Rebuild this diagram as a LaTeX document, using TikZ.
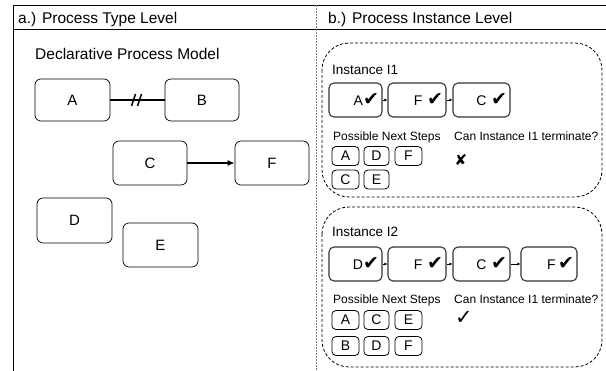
\documentclass[tikz,border=0pt]{standalone}
\usepackage{fontspec}
\setmainfont{Liberation Sans}
\newfontfamily\tickfont{DejaVu Sans}
\usetikzlibrary{arrows.meta}

\newcommand{\okMark}{{\tickfont\fontsize{19}{16}\selectfont ✔}}
\newcommand{\yesMark}{{\tickfont\fontsize{21}{18}\selectfont ✓}}
\newcommand{\noMark}{{\tickfont\fontsize{15}{12}\selectfont ✘}}

\tikzstyle{activity} = [
 rectangle,
 draw,
 line width=0.7pt,
 rounded corners=6pt,
 minimum width=75pt,
 minimum height=42pt,
 font=\fontsize{15}{18}\selectfont
]
\tikzstyle{execStep} = [
 rectangle,
 draw=black!80,
 line width=1.1pt,
 rounded corners=5pt,
 minimum height=34pt,
 inner sep=3pt,
 align=right,
 font=\fontsize{14}{16}\selectfont
]
\tikzstyle{nextStep} = [
 rectangle,
 draw,
 line width=0.8pt,
 rounded corners=4pt,
 minimum width=27pt,
 minimum height=19pt,
 inner sep=0pt,
 font=\fontsize{14}{16}\selectfont
]
\tikzstyle{instanceFrame} = [
 draw,
 line width=0.8pt,
 dash pattern=on 3pt off 2pt,
 rounded corners=27pt
]
\tikzstyle{label} = [
 anchor=base west,
 inner sep=0pt
]
\tikzstyle{flow} = [
 -{Latex[length=3pt,width=3pt]},
 line width=0.6pt
]

\begin{document}
\begin{tikzpicture}[x=1pt,y=-1pt]
  \useasboundingbox (0,0) rectangle (606,371);

  % frame and headers
  \draw[line width=0.8pt] (13,371) -- (13,5) -- (606,5);
  \draw[line width=0.8pt] (13,29) -- (606,29);
  \draw[gray, line width=0.8pt, dash pattern=on 2pt off 1pt] (316,5) -- (316,371);
  \node[label, font=\fontsize{15.5}{18}\selectfont] (typeHead) at (18,24) {a.) Process Type Level};
  \node[label, font=\fontsize{15.5}{18}\selectfont] (instHead) at (328,24) {b.) Process Instance Level};

  % type level: declarative model
  \node[label, font=\fontsize{15.5}{18}\selectfont] (model) at (35,60) {Declarative Process Model};
  \node[activity] (A) at (72.5,100) {A};
  \node[activity, minimum width=74pt] (B) at (202,100) {B};
  \node[activity, minimum width=74pt, minimum height=44pt] (C) at (150,163) {C};
  \node[activity, minimum width=74pt, minimum height=44pt] (F) at (272,163) {F};
  \node[activity, minimum height=45pt] (D) at (74.5,220.5) {D};
  \node[activity, minimum height=44pt] (E) at (160.5,245) {E};

  \draw[line width=1.5pt] (A) -- coordinate (ab) (B);
  \draw[line width=1.5pt] ([shift={(-6,6)}]ab) -- ([shift={(-2,-6)}]ab);
  \draw[line width=1.5pt] ([shift={(0,6)}]ab) -- ([shift={(4,-6)}]ab);
  \draw[line width=1.3pt, -{Latex[length=7pt,width=6pt]}] (C) -- (F);

  % instance I1
  \draw[instanceFrame] (322,43) rectangle (602,197);
  \node[label, font=\fontsize{13.5}{16}\selectfont] (i1) at (332,75) {Instance I1};
  \node[execStep, text width=47pt] (a1) at (355.5,100) {A\okMark};
  \node[execStep, text width=52pt] (f1) at (417,100) {F \okMark};
  \node[execStep, text width=51pt] (c1) at (481.5,100) {C \okMark};
  \draw[flow] (a1) -- (f1);
  \draw[flow] (f1) -- (c1);

  \node[label, font=\fontsize{12}{14}\selectfont] (next1) at (333,141) {Possible Next Steps};
  \node[label, font=\fontsize{12}{14}\selectfont] (term1) at (454,141) {Can Instance I1 terminate?};
  \node[nextStep] (n1a) at (345.5,156) {A};
  \node[nextStep, minimum width=25pt] (n1d) at (376.5,156) {D};
  \node[nextStep] (n1f) at (408.5,156) {F};
  \node[nextStep] (n1c) at (345.5,179.5) {C};
  \node[nextStep, minimum width=25pt] (n1e) at (376.5,179.5) {E};
  \node (ans1) at (461,160) {\noMark};

  % instance I2
  \draw[instanceFrame] (322,207) rectangle (602,367);
  \node[label, font=\fontsize{13.5}{16}\selectfont] (i2) at (332,237) {Instance I2};
  \node[execStep, text width=47pt] (d2) at (355.5,264) {D\okMark};
  \node[execStep, text width=52pt] (f2) at (417,264) {F \okMark};
  \node[execStep, text width=51pt] (c2) at (481.5,264) {C \okMark};
  \node[execStep, text width=50pt] (g2) at (549,264) {F\,\okMark};
  \draw[flow] (d2) -- (f2);
  \draw[flow] (f2) -- (c2);
  \draw[flow] (c2) -- (g2);

  \node[label, font=\fontsize{12}{14}\selectfont] (next2) at (333,304) {Possible Next Steps};
  \node[label, font=\fontsize{12}{14}\selectfont] (term2) at (454,304) {Can Instance I1 terminate?};
  \node[nextStep] (n2a) at (345.5,320) {A};
  \node[nextStep, minimum width=25pt] (n2c) at (376.5,320) {C};
  \node[nextStep] (n2e) at (408.5,320) {E};
  \node[nextStep] (n2b) at (345.5,346) {B};
  \node[nextStep, minimum width=25pt] (n2d) at (376.5,346) {D};
  \node[nextStep] (n2f) at (408.5,346) {F};
  \node (ans2) at (464,318) {\yesMark};
\end{tikzpicture}
\end{document}
